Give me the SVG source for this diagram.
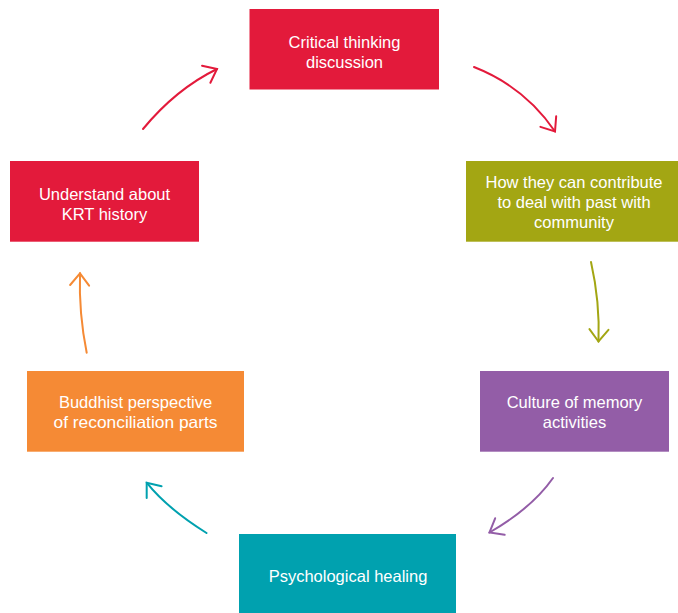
<svg xmlns="http://www.w3.org/2000/svg" width="678" height="613" viewBox="0 0 678 613">
<style>
  .lbl { font-family: "Liberation Sans", Arial, sans-serif; font-size: 16.5px; fill: #ffffff; text-anchor: middle; }
  .conn { fill: none; stroke-width: 2; stroke-linecap: round; }
  .head { fill: none; stroke-width: 2; stroke-linecap: round; stroke-linejoin: miter; }
</style>
<defs>
  <marker id="ah-red" markerUnits="userSpaceOnUse" orient="auto" refX="0" refY="0" markerWidth="30" markerHeight="30" viewBox="-15 -15 30 30" overflow="visible">
    <path class="head" d="M-12,-9.5 L0,0 L-12,9.5" stroke="#E31A3B"/>
  </marker>
  <marker id="ah-olive" markerUnits="userSpaceOnUse" orient="auto" refX="0" refY="0" markerWidth="30" markerHeight="30" viewBox="-15 -15 30 30" overflow="visible">
    <path class="head" d="M-12,-9.5 L0,0 L-12,9.5" stroke="#A3A613"/>
  </marker>
  <marker id="ah-purple" markerUnits="userSpaceOnUse" orient="auto" refX="0" refY="0" markerWidth="30" markerHeight="30" viewBox="-15 -15 30 30" overflow="visible">
    <path class="head" d="M-12,-9.5 L0,0 L-12,9.5" stroke="#935DA7"/>
  </marker>
  <marker id="ah-teal" markerUnits="userSpaceOnUse" orient="auto" refX="0" refY="0" markerWidth="30" markerHeight="30" viewBox="-15 -15 30 30" overflow="visible">
    <path class="head" d="M-12,-9.5 L0,0 L-12,9.5" stroke="#00A1AF"/>
  </marker>
  <marker id="ah-orange" markerUnits="userSpaceOnUse" orient="auto" refX="0" refY="0" markerWidth="30" markerHeight="30" viewBox="-15 -15 30 30" overflow="visible">
    <path class="head" d="M-12,-9.5 L0,0 L-12,9.5" stroke="#F58A35"/>
  </marker>
</defs>
<rect width="678" height="613" fill="#ffffff"/>

<g id="connectors">
  <path class="conn" d="M143,129 Q176,89 217,69" stroke="#E31A3B" marker-end="url(#ah-red)"/>
  <path class="conn" d="M474,67 Q525,87 555,131.5" stroke="#E31A3B" marker-end="url(#ah-red)"/>
  <path class="conn" d="M591,262 Q600,302 598.5,341.5" stroke="#A3A613" marker-end="url(#ah-olive)"/>
  <path class="conn" d="M553,478 Q532,508 489.5,532.5" stroke="#935DA7" marker-end="url(#ah-purple)"/>
  <path class="conn" d="M206.5,533 Q166.7,508 146.7,482.7" stroke="#00A1AF" marker-end="url(#ah-teal)"/>
  <path class="conn" d="M86.7,352.7 Q78.7,313 80,273.3" stroke="#F58A35" marker-end="url(#ah-orange)"/>
</g>

<g id="node-critical">
  <rect x="249.5" y="9" width="189.5" height="80.5" fill="#E31A3B"/>
  <text class="lbl" x="344.5" y="48.3">Critical thinking</text>
  <text class="lbl" x="344.5" y="68.3">discussion</text>
</g>

<g id="node-contribute">
  <rect x="466" y="161" width="212" height="80.7" fill="#A3A613"/>
  <text class="lbl" x="574" y="188.3">How they can contribute</text>
  <text class="lbl" x="574" y="208">to deal with past with</text>
  <text class="lbl" x="574" y="227.7">community</text>
</g>

<g id="node-memory">
  <rect x="480" y="371" width="189" height="80.7" fill="#935DA7"/>
  <text class="lbl" x="574.5" y="408.3">Culture of memory</text>
  <text class="lbl" x="574.5" y="428.3">activities</text>
</g>

<g id="node-healing">
  <rect x="239" y="534" width="217" height="79" fill="#00A1AF"/>
  <text class="lbl" x="348" y="581.5">Psychological healing</text>
</g>

<g id="node-buddhist">
  <rect x="27" y="371" width="217" height="80.7" fill="#F58A35"/>
  <text class="lbl" x="135.5" y="408.3">Buddhist perspective</text>
  <text class="lbl" x="135.5" y="428.3" textLength="164" lengthAdjust="spacingAndGlyphs">of reconciliation parts</text>
</g>

<g id="node-krt">
  <rect x="10" y="161" width="189" height="80.7" fill="#E31A3B"/>
  <text class="lbl" x="104.5" y="200">Understand about</text>
  <text class="lbl" x="104.5" y="220">KRT history</text>
</g>
</svg>
